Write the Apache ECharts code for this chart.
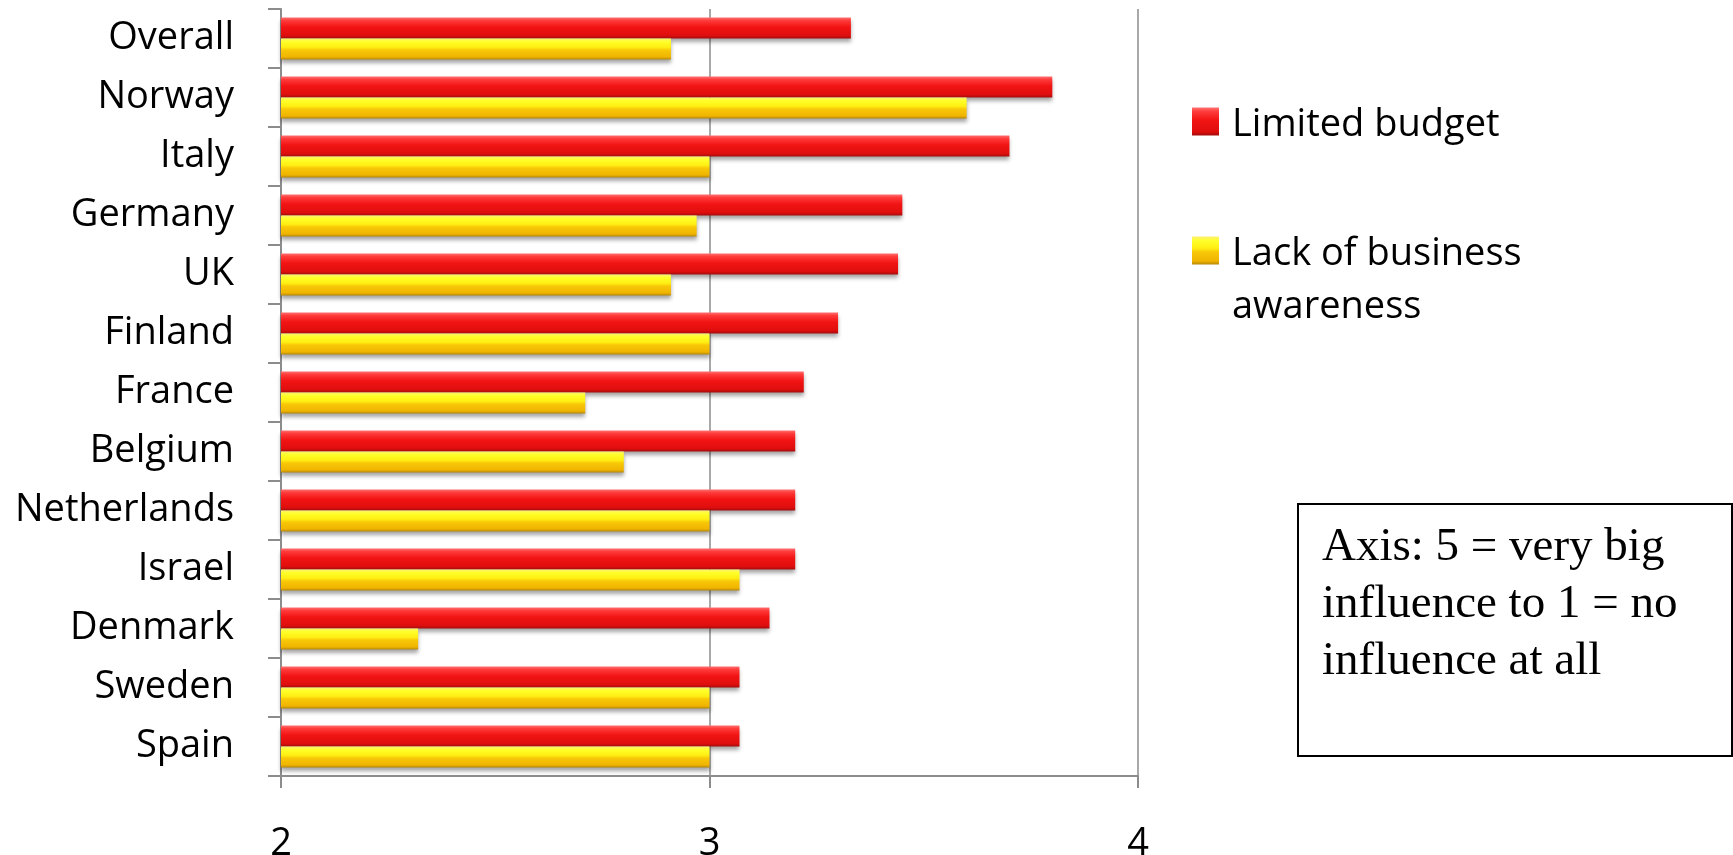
<!DOCTYPE html>
<html>
<head>
<meta charset="utf-8">
<script src="https://cdn.jsdelivr.net/npm/echarts@6/dist/echarts.min.js"></script>
<style>
  html, body { margin: 0; padding: 0; background: #fff; }
  #chart { width: 1733px; height: 855px; }
</style>
</head>
<body>
<div id="chart"></div>
<script>
// Survey scores: influence of each barrier (5 = very big influence, 1 = none)
const categories = ['Overall', 'Norway', 'Italy', 'Germany', 'UK', 'Finland', 'France',
                    'Belgium', 'Netherlands', 'Israel', 'Denmark', 'Sweden', 'Spain'];
const limitedBudget = [3.33, 3.80, 3.70, 3.45, 3.44, 3.30, 3.22, 3.20, 3.20, 3.20, 3.14, 3.07, 3.07];
const lackOfAwareness = [2.91, 3.60, 3.00, 2.97, 2.91, 3.00, 2.71, 2.80, 3.00, 3.07, 2.32, 3.00, 3.00];
const seriesNames = ['Limited budget', 'Lack of business awareness'];
const xTicks = [2, 3, 4];

const labelFont = '"Open Sans", "Noto Sans", sans-serif';

const redFill = new echarts.graphic.LinearGradient(0, 0, 0, 1, [
  { offset: 0, color: '#ff7070' },
  { offset: 0.15, color: '#ff3a3a' },
  { offset: 0.45, color: '#f21414' },
  { offset: 0.85, color: '#e00e0e' },
  { offset: 1, color: '#a60c0c' }
]);
const yellowFill = new echarts.graphic.LinearGradient(0, 0, 0, 1, [
  { offset: 0, color: '#fff070' },
  { offset: 0.15, color: '#ffff2a' },
  { offset: 0.42, color: '#ffee12' },
  { offset: 0.55, color: '#f8c808' },
  { offset: 0.88, color: '#f0b400' },
  { offset: 1, color: '#b4860a' }
]);

const legendText = {
  fontFamily: labelFont,
  fontSize: 38,
  color: '#000',
  lineHeight: 53,
  rich: {
    t: { fontFamily: labelFont, fontSize: 38, color: '#000', lineHeight: 53, padding: [8, 0, 0, 8] }
  }
};

const chart = echarts.init(document.getElementById('chart'));

chart.setOption({
  backgroundColor: '#ffffff',
  animation: false,
  grid: { left: 281, right: 595, top: 9, bottom: 79, containLabel: false, outerBoundsMode: 'none' },
  xAxis: {
    type: 'value',
    min: xTicks[0],
    max: xTicks[xTicks.length - 1],
    interval: 1,
    axisLine: { show: true, lineStyle: { color: '#8c8c8c', width: 2 } },
    axisTick: { show: true, length: 12, lineStyle: { color: '#8c8c8c', width: 2 } },
    splitLine: { show: true, lineStyle: { color: '#8c8c8c', width: 1.5 } },
    axisLabel: {
      margin: 49,
      color: '#000',
      fontFamily: labelFont,
      fontSize: 38,
      formatter: v => xTicks.includes(v) ? String(v) : ''
    }
  },
  yAxis: {
    type: 'category',
    data: categories,
    inverse: true,
    axisLine: { show: true, lineStyle: { color: '#8c8c8c', width: 2 } },
    axisTick: { show: true, length: 13, interval: 0, lineStyle: { color: '#8c8c8c', width: 2 } },
    axisLabel: {
      margin: 47,
      interval: 0,
      color: '#000',
      fontFamily: labelFont,
      fontSize: 38,
      padding: [5, 0, 0, 0]
    }
  },
  legend: [
    {
      data: [seriesNames[0]],
      left: 1192,
      top: 95,
      padding: 0,
      itemWidth: 27,
      itemHeight: 28,
      itemGap: 0,
      icon: 'rect',
      formatter: name => '{t|' + name + '}',
      textStyle: legendText
    },
    {
      data: [seriesNames[1]],
      left: 1192,
      top: 171,
      padding: 0,
      itemWidth: 27,
      itemHeight: 28,
      itemGap: 0,
      icon: 'rect',
      // blank first line keeps the first text line level with the swatch
      formatter: () => '{t| }\n{t|Lack of business}\n{t|awareness}',
      textStyle: legendText
    }
  ],
  series: [
    {
      name: seriesNames[0],
      type: 'bar',
      data: limitedBudget,
      barWidth: 21,
      barGap: '0%',
      itemStyle: {
        color: redFill,
        shadowColor: 'rgba(0,0,0,0.35)',
        shadowBlur: 4,
        shadowOffsetY: 3
      }
    },
    {
      name: seriesNames[1],
      type: 'bar',
      data: lackOfAwareness,
      barWidth: 21,
      barGap: '0%',
      itemStyle: {
        color: yellowFill,
        shadowColor: 'rgba(0,0,0,0.35)',
        shadowBlur: 4,
        shadowOffsetY: 3
      }
    }
  ],
  graphic: [
    {
      type: 'group',
      left: 1297,
      top: 503,
      children: [
        {
          type: 'rect',
          shape: { x: 0, y: 0, width: 434, height: 252 },
          style: { fill: '#fff', stroke: '#000', lineWidth: 2 }
        },
        {
          type: 'text',
          x: 24,
          y: 15,
          style: {
            text: 'Axis: 5 = very big\ninfluence to 1 = no\ninfluence at all',
            fontFamily: '"Liberation Serif", "Times New Roman", serif',
            fontSize: 47,
            lineHeight: 57,
            fill: '#000',
            verticalAlign: 'top'
          }
        }
      ]
    }
  ]
});
</script>
</body>
</html>
